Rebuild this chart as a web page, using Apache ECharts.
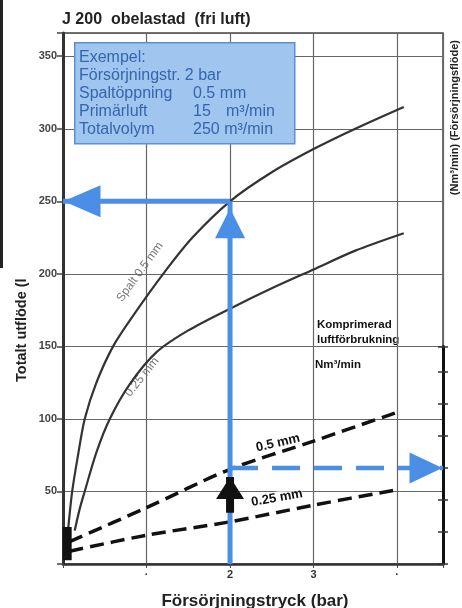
<!DOCTYPE html>
<html><head><meta charset="utf-8">
<script src="https://cdn.jsdelivr.net/npm/echarts@6/dist/echarts.min.js"></script>
<style>html,body{margin:0;padding:0;background:#fff}#c{width:462px;height:608px}</style>
</head><body><div id="c"></div>
<script>
// ---- data ----
const title = 'J 200  obelastad  (fri luft)';
const xName = 'Försörjningstryck (bar)';
const yName = 'Totalt utflöde (l';
const y2Name = '(Nm³/min) (Försörjningsflöde)';
const xTickLabels = {1: '·', 2: '2', 3: '3', 4: '·'};
// total outflow (left axis) vs supply pressure (bar)
const spalt05 = [[0.06,23],[0.11,50],[0.18,75],[0.26,100],[0.4,125],[0.6,150],[0.85,172],[1.2,200],[1.55,225],[2,250],[2.5,270],[3,286],[3.5,300],[4.08,315]];
const spalt025 = [[0.14,23],[0.2,38],[0.26,50],[0.4,77],[0.56,100],[0.8,124],[1.12,146],[1.5,161],[2,176],[2.5,190],[3,203],[3.5,216],[4.08,228]];
// compressed air consumption (right axis, Nm3/min)
const flow05 = [[0.08,3.5],[1,8.8],[2,14.8],[3,19.2],[4,23.7]];
const flow025 = [[0.08,2],[1,4.5],[2,6.6],[3,9.2],[4,11.6]];
// example
const exPressure = 2, exTotal = 250, exPrimary = 15, exFlowLow = 8, exFlowArrow = 13.6;
const boxLines = [['Exempel:', '', ''], ['Försörjningstr. 2 bar', '', ''], ['Spaltöppning', '0.5 mm', ''], ['Primärluft', '15', 'm³/min'], ['Totalvolym', '250 m³/min', '']];
const xMax = 4.55, yMax = 366, y2Max = 34;

const blue = '#4b8ee6';
const F = 'Liberation Sans, Arial, sans-serif';
const chart = echarts.init(document.getElementById('c'), null, {renderer: 'canvas'});

function arrowEnd(p, rot, size, off) {
  return {value: p, symbol: 'triangle', symbolSize: size, symbolRotate: rot, symbolOffset: off};
}

const boxTexts = [];
const bs = {fill: '#3566ad', font: '16px ' + F, verticalAlign: 'middle'};
boxLines.forEach((l, i) => {
  const y = 58 + i * 18;
  boxTexts.push({type: 'text', z: 20, x: 79, y: y, style: Object.assign({text: l[0]}, bs)});
  if (l[1]) boxTexts.push({type: 'text', z: 20, x: 193, y: y, style: Object.assign({text: l[1]}, bs)});
  if (l[2]) boxTexts.push({type: 'text', z: 20, x: 226, y: y, style: Object.assign({text: l[2]}, bs)});
});

chart.setOption({
  animation: false,
  grid: [
    {left: 63, right: 19, top: 33, bottom: 44, show: true, borderColor: '#444', borderWidth: 1.5},
    {left: 63, right: 19, top: 564 - y2Max * 6.4, bottom: 44}
  ],
  xAxis: [
    {type: 'value', gridIndex: 0, min: 0, max: xMax, interval: 1,
     axisLine: {lineStyle: {color: '#333', width: 2.5}},
     axisTick: {show: true, length: 4, lineStyle: {color: '#444'}},
     axisLabel: {formatter: v => xTickLabels[v] || '', color: '#333', fontSize: 11, fontWeight: 'bold', fontFamily: F, margin: 5},
     splitLine: {show: true, lineStyle: {color: '#666', width: 1.2}}},
    {type: 'value', gridIndex: 1, min: 0, max: xMax, show: false}
  ],
  yAxis: [
    {type: 'value', gridIndex: 0, min: 0, max: yMax, interval: 50,
     axisLine: {show: true, onZero: false, lineStyle: {color: '#333', width: 3}},
     axisTick: {show: true, length: 6, lineStyle: {color: '#444', width: 1.5}},
     axisLabel: {formatter: v => (v > 0 && v % 50 === 0) ? String(v) : '', color: '#444', fontSize: 11, fontWeight: 'bold', fontFamily: F, margin: 6},
     splitLine: {show: true, lineStyle: {color: '#666', width: 1.2}}},
    {type: 'value', gridIndex: 1, min: 0, max: y2Max, interval: 5, position: 'right',
     axisLine: {show: true, onZero: false, lineStyle: {color: '#111', width: 3}},
     axisTick: {show: true, length: 5, lineStyle: {color: '#333', width: 1.5}},
     axisLabel: {show: false}, splitLine: {show: false}},
    {type: 'value', gridIndex: 1, min: 0, max: y2Max, interval: 5, position: 'right',
     axisLine: {show: false, onZero: false},
     axisTick: {show: true, inside: true, length: 5, lineStyle: {color: '#333', width: 1.5}},
     axisLabel: {show: false}, splitLine: {show: false}}
  ],
  graphic: [
    {type: 'rect', left: 0, top: 0, shape: {width: 3, height: 268}, style: {fill: '#222'}},
    {type: 'text', x: 62, y: 20, style: {text: title, fill: '#222', font: 'bold 16px ' + F, verticalAlign: 'middle'}},
    {type: 'rect', left: 74, top: 42, z: 10, shape: {width: 220, height: 101}, style: {fill: '#a0c5ee', stroke: '#5b8fd0', lineWidth: 1.5}}
  ].concat(boxTexts).concat([
    {type: 'text', x: 22, y: 382, rotation: Math.PI / 2, style: {text: yName, fill: '#222', font: 'bold 14.5px ' + F, align: 'left', verticalAlign: 'middle'}},
    {type: 'text', x: 455, y: 40, rotation: Math.PI / 2, style: {text: y2Name, fill: '#222', font: 'bold 11px ' + F, align: 'right', verticalAlign: 'middle'}},
    {type: 'text', x: 255, y: 601, style: {text: xName, fill: '#222', font: 'bold 17px ' + F, align: 'center', verticalAlign: 'middle'}},
    {type: 'text', x: 140, y: 272, rotation: 54 * Math.PI / 180, style: {text: 'Spalt 0.5 mm', fill: '#777', font: '12px ' + F, align: 'center', verticalAlign: 'middle'}},
    {type: 'text', x: 142, y: 377, rotation: 51 * Math.PI / 180, style: {text: '0.25 mm', fill: '#777', font: '12px ' + F, align: 'center', verticalAlign: 'middle'}},
    {type: 'text', x: 278, y: 443, rotation: 13 * Math.PI / 180, z: 12, style: {text: '0.5 mm', fill: '#111', font: 'bold 13px ' + F, align: 'center', verticalAlign: 'middle'}},
    {type: 'text', x: 277, y: 498, rotation: 10 * Math.PI / 180, z: 12, style: {text: '0.25 mm', fill: '#111', font: 'bold 13px ' + F, align: 'center', verticalAlign: 'middle', backgroundColor: 'rgba(255,255,255,0.6)'}},
    {type: 'text', x: 317, y: 325, style: {text: 'Komprimerad', fill: '#111', font: 'bold 11.5px ' + F, verticalAlign: 'middle'}},
    {type: 'text', x: 317, y: 340, style: {text: 'luftförbrukning', fill: '#111', font: 'bold 11.5px ' + F, verticalAlign: 'middle'}},
    {type: 'text', x: 315, y: 365, style: {text: 'Nm³/min', fill: '#111', font: 'bold 11.5px ' + F, verticalAlign: 'middle'}}
  ]),
  series: [
    {type: 'line', name: 'Spalt 0.5 mm', xAxisIndex: 0, yAxisIndex: 0, data: spalt05, smooth: 0.3, showSymbol: false, lineStyle: {color: '#333', width: 2.2}},
    {type: 'line', name: '0.25 mm', xAxisIndex: 0, yAxisIndex: 0, data: spalt025, smooth: 0.3, showSymbol: false, lineStyle: {color: '#333', width: 2.2}},
    {type: 'line', name: 'flow 0.5', xAxisIndex: 1, yAxisIndex: 1, data: flow05, smooth: 0.3, showSymbol: false, z: 5, lineStyle: {color: '#111', width: 3.5, type: [14, 7]}},
    {type: 'line', name: 'flow 0.25', xAxisIndex: 1, yAxisIndex: 1, data: flow025, smooth: 0.3, showSymbol: false, z: 5, lineStyle: {color: '#111', width: 3.5, type: [14, 7]}},
    {type: 'line', name: 'origin', xAxisIndex: 1, yAxisIndex: 1, data: [[0.05, 0.6], [0.05, 5.8]], showSymbol: false, lineStyle: {color: '#111', width: 9}},
    // blue example arrows
    {type: 'line', xAxisIndex: 0, yAxisIndex: 0, z: 6, lineStyle: {color: blue, width: 5}, itemStyle: {color: blue},
     data: [{value: [exPressure, 0], symbol: 'none'}, arrowEnd([exPressure, exTotal], 0, [30, 30], [0, 22])]},
    {type: 'line', xAxisIndex: 0, yAxisIndex: 0, z: 6, lineStyle: {color: blue, width: 5}, itemStyle: {color: blue},
     data: [{value: [exPressure, exTotal], symbol: 'none'}, arrowEnd([0, exTotal], 90, [32, 37], [19, 0])]},
    {type: 'line', xAxisIndex: 1, yAxisIndex: 1, z: 6, lineStyle: {color: blue, width: 4.5, type: [28, 14]}, itemStyle: {color: blue},
     data: [{value: [exPressure, exPrimary], symbol: 'none'}, arrowEnd([xMax, exPrimary], -90, [31, 33], [-17, 0])]},
    {type: 'line', xAxisIndex: 1, yAxisIndex: 1, z: 7, lineStyle: {color: '#111', width: 8}, itemStyle: {color: '#111'},
     data: [{value: [exPressure, exFlowLow], symbol: 'none'}, arrowEnd([exPressure, exFlowArrow], 0, [28, 22], [0, 11])]}
  ]
});
</script></body></html>
